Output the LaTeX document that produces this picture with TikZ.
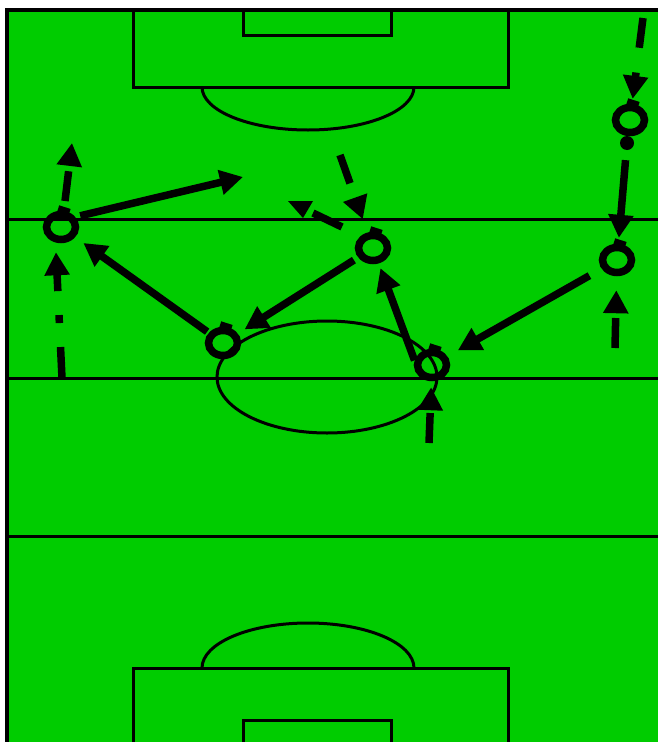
\documentclass[tikz,border=0pt]{standalone}
\usetikzlibrary{arrows.meta,shapes.geometric}
\definecolor{pitch}{RGB}{0,204,0}

\tikzset{
  line/.style={draw=black,line width=3pt},
  player/.style={ellipse,draw=black,line width=7.5pt,minimum width=29pt,minimum height=25pt,inner sep=0pt},
  tab/.style={rectangle,fill=black,minimum width=12pt,minimum height=6pt,inner sep=0pt,rotate=-18},
  ball/.style={circle,fill=black,minimum size=14pt,inner sep=0pt},
  pass/.style={draw=black,line width=7.5pt,-{Triangle[length=23pt,width=24pt]}},
  run/.style={pass,dash pattern=on 30pt off 25pt},
  dribble/.style={pass,dash pattern=on 31pt off 24pt on 8pt off 24pt}
}

\begin{document}
\begin{tikzpicture}[x=1pt,y=-1pt]
  \useasboundingbox (0,0) rectangle (658,742);
  \fill[white] (0,0) rectangle (658,742);
  % pitch
  \fill[pitch] (7,9.5) rectangle (658,742);
  \draw[line width=4pt] (7,745) -- (7,9.5) -- (658,9.5);
  \foreach \y in {219,378,536}
    \draw[line] (7,\y) -- (658,\y);
  \draw[line] (327,377) ellipse [x radius=110, y radius=56];
  % top goal
  \draw[line] (133,9.5) rectangle (508,87);
  \draw[line] (243,9.5) rectangle (391,35);
  \draw[line] (202,87) arc [start angle=180, end angle=0, x radius=106, y radius=43];
  % bottom goal
  \draw[line] (133,745) -- (133,668) -- (508,668) -- (508,745);
  \draw[line] (243,745) -- (243,720) -- (391,720) -- (391,745);
  \draw[line] (202,668) arc [start angle=180, end angle=360, x radius=106, y radius=45];

  % players
  \foreach \n/\x/\y in {p1/61/227,p2/223/343,p3/373/248,p4/432/365,p5/630/120,p6/617/260}{
    \node[player] (\n) at (\x,\y) {};
    \node[tab] (\n-tab) at ([xshift=3pt,yshift=17pt]\n.center) {};
  }
  \node[ball] (ball) at (627,143) {};

  \coordinate (t1) at (243,177);
  \coordinate (t2) at (72,143);
  \coordinate (d1) at (62,378);
  \coordinate (r3) at (340,155);
  \coordinate (r4) at (429,443);
  \coordinate (r5) at (643,18);
  \coordinate (r6) at (615,348);
  \coordinate (k0) at (342,227);
  \coordinate (k1) at (313,213);

  % moves
  \draw[pass,shorten <=5pt] (p1.35) -- (t1);
  \draw[run,shorten <=10pt] (p1.80) -- (t2);
  \draw[dribble] (d1) -- ([xshift=-5pt,yshift=-9pt]p1.south);
  \draw[pass,shorten <=2pt,shorten >=10pt] (p2) -- (p1);
  \draw[pass,shorten <=5pt,shorten >=8pt] (p3) -- (p2);
  \draw[pass,shorten >=5pt] (p4.165) -- (p3);
  \draw[run,shorten >=6pt] (r4) -- (p4);
  \draw[run,shorten >=14pt] (r3) -- (p3);
  \draw[line width=7.5pt] (k0) -- (k1);
  \fill (288,201) -- (313,201) -- (303,218) -- cycle;
  \draw[run,shorten >=5pt] (r5) -- (p5);
  \draw[pass,shorten <=10pt,shorten >=6pt] (ball) -- (p6);
  \draw[run,shorten >=14pt] (r6) -- (p6);
  \draw[pass,shorten <=14pt,shorten >=12pt] (p6) -- (p4);
\end{tikzpicture}
\end{document}
